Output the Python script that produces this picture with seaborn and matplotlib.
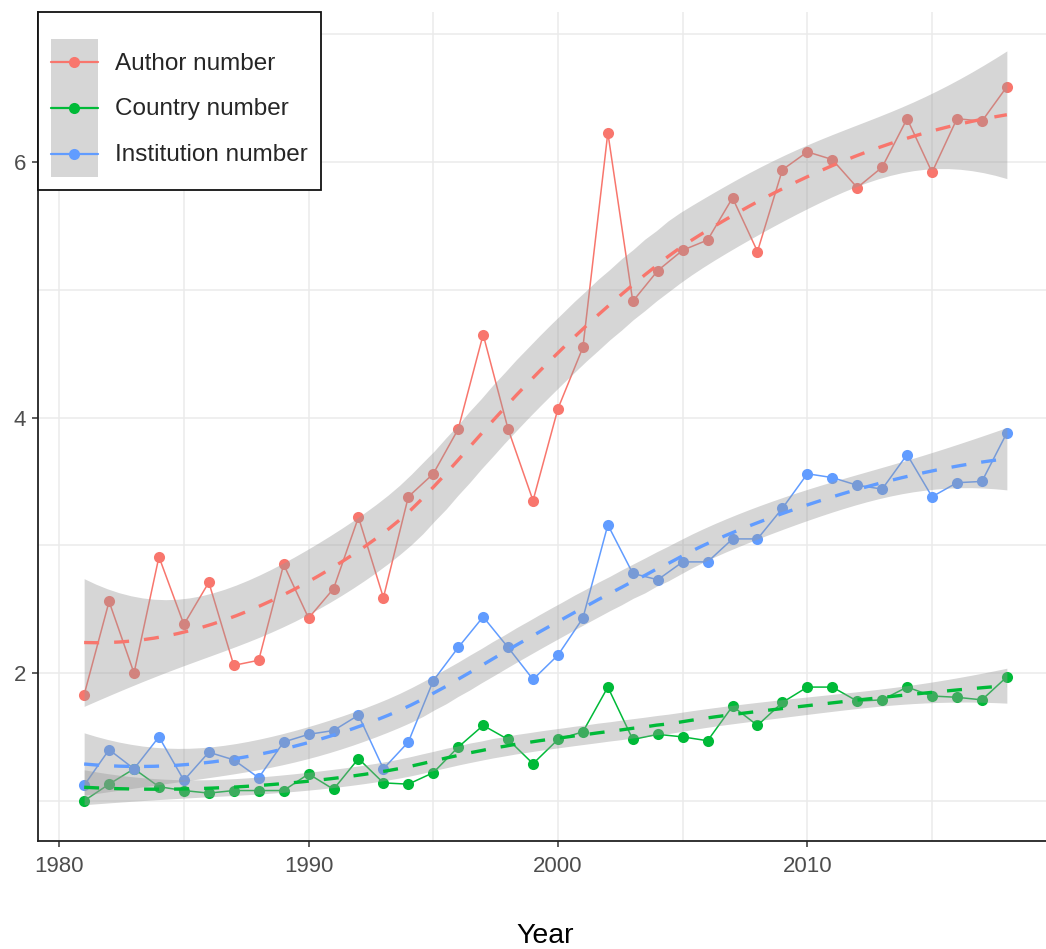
import numpy as np
import pandas as pd
import matplotlib
matplotlib.use("Agg")
import matplotlib.pyplot as plt
from matplotlib.patches import Rectangle
from matplotlib.lines import Line2D
from matplotlib.legend_handler import HandlerTuple, HandlerLine2D
from matplotlib.ticker import MultipleLocator
import seaborn as sns

# ---- data -----------------------------------------------------------------
years = list(range(1981, 2019))

author_number = [1.83, 2.56, 2.00, 2.91, 2.38, 2.71, 2.06, 2.10, 2.85, 2.43,
                 2.66, 3.22, 2.59, 3.38, 3.56, 3.91, 4.65, 3.91, 3.35, 4.07,
                 4.55, 6.23, 4.91, 5.15, 5.31, 5.39, 5.72, 5.30, 5.94, 6.08,
                 6.02, 5.80, 5.96, 6.34, 5.92, 6.34, 6.32, 6.59]

country_number = [1.00, 1.13, 1.25, 1.11, 1.08, 1.06, 1.08, 1.08, 1.08, 1.21,
                  1.09, 1.33, 1.14, 1.13, 1.22, 1.42, 1.59, 1.48, 1.29, 1.48,
                  1.54, 1.89, 1.48, 1.52, 1.50, 1.47, 1.74, 1.59, 1.77, 1.89,
                  1.89, 1.78, 1.79, 1.89, 1.82, 1.81, 1.79, 1.97]

institution_number = [1.12, 1.40, 1.25, 1.50, 1.16, 1.38, 1.32, 1.18, 1.46, 1.52,
                      1.55, 1.67, 1.25, 1.46, 1.94, 2.20, 2.44, 2.20, 1.95, 2.14,
                      2.43, 3.16, 2.78, 2.73, 2.87, 2.87, 3.05, 3.05, 3.29, 3.56,
                      3.53, 3.47, 3.44, 3.71, 3.38, 3.49, 3.50, 3.88]

series_names = ["Author number", "Country number", "Institution number"]
series_colors = ["#F8766D", "#00BA38", "#619CFF"]

df = pd.DataFrame({
    "Year": years * 3,
    "value": author_number + country_number + institution_number,
    "series": np.repeat(series_names, len(years)),
})


# ---- local quadratic regression (loess, span 0.75) with standard errors ---
def loess_weights(x, x0, q):
    d = np.abs(x - x0)
    h = np.sort(d)[q - 1]
    u = np.clip(d / h, 0, 1)
    return (1 - u ** 3) ** 3


def loess_row(x, x0, q):
    w = loess_weights(x, x0, q)
    dx = x - x0
    X = np.column_stack([np.ones_like(dx), dx, dx ** 2])
    XtW = X.T * w
    A = XtW @ X
    return np.linalg.solve(A, XtW)[0]


def t_quantile_975(df_):
    z = 1.959963985
    g1 = (z ** 3 + z) / 4
    g2 = (5 * z ** 5 + 16 * z ** 3 + 3 * z) / 96
    g3 = (3 * z ** 7 + 19 * z ** 5 + 17 * z ** 3 - 15 * z) / 384
    return z + g1 / df_ + g2 / df_ ** 2 + g3 / df_ ** 3


def loess_fit(x, y, xnew, span=0.75):
    x = np.asarray(x, float)
    y = np.asarray(y, float)
    n = len(x)
    q = int(np.floor(n * span))
    L = np.array([loess_row(x, xi, q) for xi in x])
    R = np.eye(n) - L
    RtR = R.T @ R
    d1 = np.trace(RtR)
    d2 = np.trace(RtR @ RtR)
    resid = y - L @ y
    sigma = np.sqrt(np.sum(resid ** 2) / d1)
    rows = np.array([loess_row(x, x0, q) for x0 in xnew])
    fit = rows @ y
    se = sigma * np.sqrt(np.sum(rows ** 2, axis=1))
    tq = t_quantile_975(d1 ** 2 / d2)
    return fit, fit - tq * se, fit + tq * se


class CenteredLineHandler(HandlerLine2D):
    """Legend line drawn through the vertical centre of the key box."""

    def create_artists(self, legend, orig_handle, xdescent, ydescent,
                       width, height, fontsize, trans):
        return super().create_artists(legend, orig_handle, xdescent, ydescent,
                                      width, height - ydescent, fontsize, trans)


# ---- figure ---------------------------------------------------------------
sns.set_theme(style="white")
plt.rcParams["font.family"] = ["Liberation Sans", "DejaVu Sans"]

W, H = 1046, 949
fig = plt.figure(figsize=(W / 100, H / 100), dpi=100)
ax = fig.add_axes([38 / W, (H - 841) / H, (1053 - 38) / W, (841 - 12) / H])

# raw series: lines with points
sns.lineplot(data=df, x="Year", y="value", hue="series", hue_order=series_names,
             palette=series_colors, marker="o", markersize=8,
             markeredgewidth=0, linewidth=1.1, legend=False, ax=ax, zorder=2)

# smoothed trends with confidence bands
xgrid = np.linspace(min(years), max(years), 80)
smooth_frames = []
for name, vals in zip(series_names, [author_number, country_number, institution_number]):
    fit, lo, hi = loess_fit(years, vals, xgrid)
    ax.fill_between(xgrid, lo, hi, color="#999999", alpha=0.4, linewidth=0, zorder=3)
    smooth_frames.append(pd.DataFrame({"Year": xgrid, "fit": fit, "series": name}))
smooth_df = pd.concat(smooth_frames, ignore_index=True)

sns.lineplot(data=smooth_df, x="Year", y="fit", hue="series", hue_order=series_names,
             palette=series_colors, linewidth=2.4, legend=False, ax=ax, zorder=4)
for line in ax.get_lines()[3:]:
    line.set_linestyle((0, (4.5, 4.5)))
    line.set_dash_capstyle("butt")

# axes styling
ax.set_xlim(1979.15, 2019.85)
ax.set_ylim(0.685, 7.175)
ax.xaxis.set_major_locator(MultipleLocator(10))
ax.xaxis.set_minor_locator(MultipleLocator(5))
ax.yaxis.set_major_locator(MultipleLocator(2))
ax.yaxis.set_minor_locator(MultipleLocator(1))
ax.grid(True, which="both", color="#EBEBEB", linewidth=1.1)
ax.set_axisbelow(True)

for side in ["top", "right"]:
    ax.spines[side].set_visible(False)
for side in ["left", "bottom"]:
    ax.spines[side].set_visible(True)
    ax.spines[side].set_color("#222222")
    ax.spines[side].set_linewidth(1.3)

ax.tick_params(axis="both", which="major", length=4.5, width=1.1, color="#333333",
               labelsize=16, labelcolor="#4D4D4D", pad=4, bottom=True, left=True)
ax.tick_params(axis="x", which="major", pad=6)
ax.tick_params(axis="both", which="minor", length=0)

ax.set_ylabel("")
ax.set_xlabel("Year", fontsize=20.5, color="black")
ax.xaxis.set_label_coords(0.5, -0.114)
ax.xaxis.label.set_verticalalignment("center")

# legend: coloured key on grey ribbon background
handles = []
for c in series_colors:
    bg = Rectangle((0, 0), 1, 1, facecolor="#D6D6D6", edgecolor="none")
    ln = Line2D([0], [0], color=c, linewidth=1.6, marker="o", markersize=8,
                markeredgewidth=0)
    handles.append((bg, ln))

leg = ax.legend(handles, series_names, loc="upper left", bbox_to_anchor=(0, 1.0),
                borderaxespad=0, frameon=True, fancybox=False, fontsize=17.5,
                handler_map={tuple: HandlerTuple(ndivide=1, pad=0),
                             Line2D: CenteredLineHandler()},
                numpoints=1, handlelength=1.9, handleheight=2.52,
                handletextpad=0.7, labelspacing=0, borderpad=0.55,
                title=" ", title_fontsize=10)
leg.get_frame().set_edgecolor("#111111")
leg.get_frame().set_linewidth(1.3)
leg.get_frame().set_facecolor("white")
leg.get_frame().set_alpha(1)
leg.set_zorder(10)

fig.savefig("out.png", dpi=100)
